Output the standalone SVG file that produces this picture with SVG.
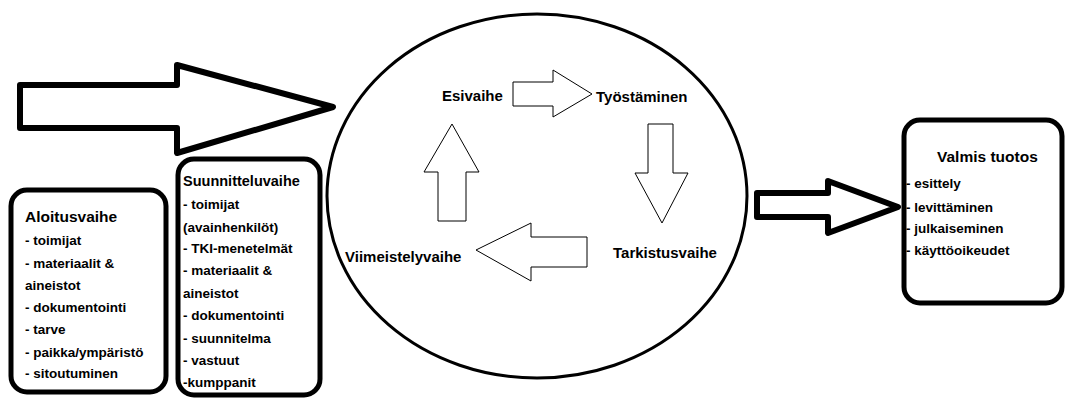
<svg xmlns="http://www.w3.org/2000/svg" width="1066" height="398" viewBox="0 0 1066 398">
<style>
text{font-family:"Liberation Sans",Arial,sans-serif;font-weight:bold;fill:#000}
.t{font-size:15.5px}
.i{font-size:13.5px}
.c{font-size:15px}
.box{fill:#fff;stroke:#000;stroke-width:5}
.big{fill:#fff;stroke:#000;stroke-width:6;stroke-linejoin:round}
.thin{fill:#fff;stroke:#000;stroke-width:1}
</style>
<rect width="1066" height="398" fill="#fff"/>
<g id="connectors">
<path class="big" d="M20,85 H177 V65 L333,107 L177,153 V128 H20 Z"/>
<path class="big" stroke-width="5" d="M757,193 H828 V181 L898,207 L828,233 V217 H757 Z"/>
<path class="thin" d="M513,82 H553 V70 L592,94 L553,117 V106 H513 Z"/>
<path class="thin" d="M648,124 H673 V173 H688 L662,223 L635,173 H648 Z"/>
<path class="thin" d="M587,237 V267 H531 V281 L476,250 L531,223 V237 Z"/>
<path class="thin" d="M438,221 V172 H424 L452,124 L479,172 H466 V221 Z"/>
</g>
<g id="cycle">
<ellipse cx="537" cy="196" rx="210" ry="182" fill="none" stroke="#000" stroke-width="3"/>
</g>
<g id="esivaihe"><text class="c" x="442" y="101">Esivaihe</text></g>
<g id="tyostaminen"><text class="c" x="596" y="102">Työstäminen</text></g>
<g id="tarkistusvaihe"><text class="c" x="613" y="258">Tarkistusvaihe</text></g>
<g id="viimeistelyvaihe"><text class="c" x="345" y="262">Viimeistelyvaihe</text></g>
<g id="aloitusvaihe">
<rect class="box" x="11" y="190" width="155" height="202" rx="16"/>
<text class="t" x="25" y="222">Aloitusvaihe</text>
<text class="i" x="25" y="245">- toimijat</text>
<text class="i" x="25" y="268">- materiaalit &amp;</text>
<text class="i" x="25" y="290">aineistot</text>
<text class="i" x="25" y="312">- dokumentointi</text>
<text class="i" x="25" y="334">- tarve</text>
<text class="i" x="25" y="357">- paikka/ympäristö</text>
<text class="i" x="25" y="378">- sitoutuminen</text>
</g>
<g id="suunnitteluvaihe">
<rect class="box" x="178" y="159" width="142" height="236" rx="16"/>
<text class="t" x="183" y="186" font-size="14.5px" style="font-size:14.5px">Suunnitteluvaihe</text>
<text class="i" x="183" y="209">- toimijat</text>
<text class="i" x="183" y="232">(avainhenkilöt)</text>
<text class="i" x="183" y="253">- TKI-menetelmät</text>
<text class="i" x="183" y="275">- materiaalit &amp;</text>
<text class="i" x="183" y="298">aineistot</text>
<text class="i" x="183" y="320">- dokumentointi</text>
<text class="i" x="183" y="343">- suunnitelma</text>
<text class="i" x="183" y="365">- vastuut</text>
<text class="i" x="183" y="387">-kumppanit</text>
</g>
<g id="valmis">
<rect class="box" x="904" y="120" width="158" height="183" rx="16"/>
<text class="t" x="937" y="162">Valmis tuotos</text>
<text class="i" x="906" y="188">- esittely</text>
<text class="i" x="906" y="212">- levittäminen</text>
<text class="i" x="906" y="233">- julkaiseminen</text>
<text class="i" x="906" y="255">- käyttöoikeudet</text>
</g>
</svg>
